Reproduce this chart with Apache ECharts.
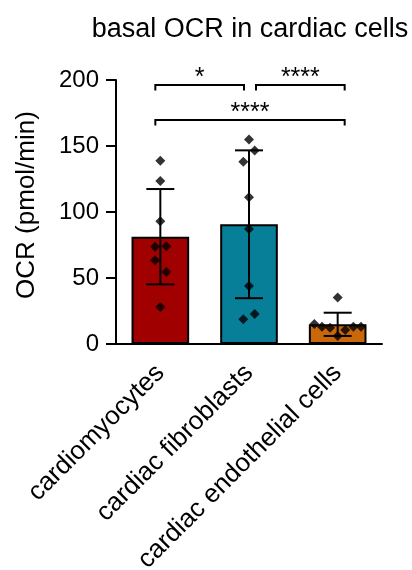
<!DOCTYPE html>
<html>
<head>
<meta charset="utf-8">
<script src="https://cdn.jsdelivr.net/npm/echarts@6/dist/echarts.min.js"></script>
<style>html,body{margin:0;padding:0;background:#fff}#c{width:412px;height:570px}</style>
</head>
<body>
<div id="c"></div>
<script>
// ---- data ----
var categories = ['cardiomyocytes', 'cardiac fibroblasts', 'cardiac endothelial cells'];
var barColors = ['#a00000', '#087f99', '#c8680a'];
var means = [81.3, 90.7, 14.9];
var sds = [36.1, 56.0, 8.8];
var pointsCardiomyocytes = [138.9, 123.5, 92.9, 73.7, 74.0, 63.4, 54.5, 28.0];
var jitterCardiomyocytes = [0, 0, 0, -0.06, 0.068, -0.06, 0.068, 0];
var pointsFibroblasts = [155.0, 146.5, 138.1, 111.1, 87.1, 43.9, 22.7, 18.7];
var jitterFibroblasts = [0, 0.064, -0.064, 0, 0, 0, 0.064, -0.064];
var pointsEndothelial = [35.3, 15.2, 13.1, 12.4, 10.6, 13.1, 13.1, 6.1];
var jitterEndothelial = [0, -0.263, -0.177, -0.086, 0.086, 0.177, 0.263, 0];
var yTicks = [0, 50, 100, 150, 200];
var sigFrom = [0, 1, 0];
var sigTo = [1, 2, 2];
var sigLevel = [196.2, 196.2, 169.7];
var sigLabels = ['*', '****', '****'];

// ---- build ----
var FONT = 'Liberation Sans, Arial, Helvetica, sans-serif';
var allPoints = [pointsCardiomyocytes, pointsFibroblasts, pointsEndothelial];
var allJitter = [jitterCardiomyocytes, jitterFibroblasts, jitterEndothelial];
var scatterData = [];
allPoints.forEach(function (arr, i) {
  arr.forEach(function (v, k) { scatterData.push([i + allJitter[i][k], v]); });
});
var barData = means.map(function (m, i) {
  return { value: m, itemStyle: { color: barColors[i] } };
});
var errData = means.map(function (m, i) { return [i, m, sds[i]]; });
var sigData = sigFrom.map(function (f, i) { return [f, sigTo[i], sigLevel[i], i]; });

var chart = echarts.init(document.getElementById('c'), null, { renderer: 'canvas' });
chart.setOption({
  animation: false,
  backgroundColor: '#fff',
  title: {
    text: 'basal OCR in cardiac cells',
    left: 245, top: 11, textAlign: 'center',
    textStyle: { fontFamily: FONT, fontSize: 27, fontWeight: 'normal', color: '#000' }
  },
  grid: { left: 116, right: 30, top: 80, bottom: 226, containLabel: false, outerBoundsMode: 'none' },
  xAxis: [{
    type: 'category',
    data: categories,
    axisLine: { onZero: false, lineStyle: { color: '#000', width: 2 } },
    axisTick: { alignWithLabel: true, length: 10, lineStyle: { color: '#000', width: 2 } },
    axisLabel: { interval: 0, rotate: 45, margin: 25, fontFamily: FONT, fontSize: 26, color: '#000' }
  }, {
    type: 'value', min: -0.5, max: 2.5, show: false
  }],
  yAxis: {
    type: 'value', min: 0, max: 200, interval: 50,
    name: 'OCR (pmol/min)', nameLocation: 'middle', nameGap: 76,
    nameTextStyle: { fontFamily: FONT, fontSize: 26, color: '#000', padding: [0, 0, 0, 14] },
    axisLine: { show: true, onZero: false, lineStyle: { color: '#000', width: 2 } },
    axisTick: { show: true, length: 10, lineStyle: { color: '#000', width: 2 } },
    axisLabel: { margin: 17, fontFamily: FONT, fontSize: 24, color: '#000',
      formatter: function (v) { return yTicks.indexOf(v) >= 0 ? String(v) : ''; } },
    splitLine: { show: false }
  },
  series: [{
    type: 'bar', xAxisIndex: 0, data: barData, barWidth: '65%', z: 2,
    itemStyle: { borderColor: '#000', borderWidth: 2 }
  }, {
    type: 'custom', xAxisIndex: 0, z: 3, data: errData,
    renderItem: function (params, api) {
      var i = api.value(0), m = api.value(1), s = api.value(2);
      var top = api.coord([i, m + s]), bot = api.coord([i, m - s]);
      var hw = 14;
      var st = { stroke: '#000', lineWidth: 2 };
      return { type: 'group', children: [
        { type: 'line', shape: { x1: top[0], y1: top[1], x2: bot[0], y2: bot[1] }, style: st },
        { type: 'line', shape: { x1: top[0] - hw, y1: top[1], x2: top[0] + hw, y2: top[1] }, style: st },
        { type: 'line', shape: { x1: bot[0] - hw, y1: bot[1], x2: bot[0] + hw, y2: bot[1] }, style: st }
      ] };
    }
  }, {
    type: 'scatter', xAxisIndex: 1, z: 4, data: scatterData,
    symbol: 'diamond', symbolSize: 10, itemStyle: { color: '#000' }
  }, {
    type: 'custom', xAxisIndex: 0, z: 5, data: sigData,
    renderItem: function (params, api) {
      var f = api.value(0), t = api.value(1), lv = api.value(2), idx = api.value(3);
      var a = api.coord([f, lv]), b = api.coord([t, lv]);
      var x1 = a[0] + (f === 0 ? -5 : 7);
      var x2 = b[0] + (t === 2 ? 7 : -5);
      var y = a[1], leg = 5.5;
      var st = { stroke: '#000', lineWidth: 2, fill: null };
      return { type: 'group', children: [
        { type: 'polyline', shape: { points: [[x1, y + leg], [x1, y], [x2, y], [x2, y + leg]] }, style: st },
        { type: 'text', style: { text: sigLabels[idx], x: (x1 + x2) / 2, y: y - 7,
          align: 'center', verticalAlign: 'middle', font: '25px ' + FONT, fill: '#000' } }
      ] };
    }
  }]
});
</script>
</body>
</html>
